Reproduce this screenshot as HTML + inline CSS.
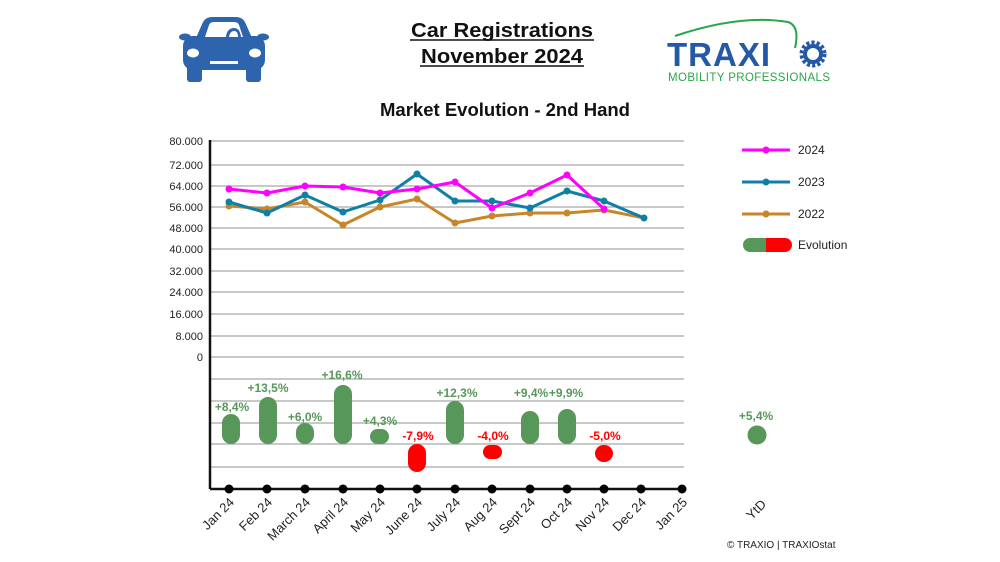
<!DOCTYPE html>
<html><head><meta charset="utf-8"><style>
html,body{margin:0;padding:0;background:#fff;}
svg{display:block;font-family:"Liberation Sans",Arial,sans-serif;}
</style></head><body>
<svg width="1000" height="562" viewBox="0 0 1000 562" xmlns="http://www.w3.org/2000/svg">
<!-- car icon -->
<g fill="#2e63ae">
  <path d="M196 38 L203 22 Q206 17 212 17 L236 17 Q242 17 245 22 L252 38 Z"/>
  <rect x="183" y="36" width="82" height="34" rx="10"/>
  <rect x="187" y="62" width="15" height="20" rx="3"/>
  <rect x="246" y="62" width="15" height="20" rx="3"/>
  <ellipse cx="185" cy="37" rx="6" ry="3.5"/>
  <ellipse cx="263" cy="37" rx="6" ry="3.5"/>
</g>
<path d="M205 37 L209 25 Q210 22 214 22 L234 22 Q238 22 239 25 L243 37 Z" fill="#fff"/>
<path d="M226 37 Q227 28 234 28 Q240 28 241 37 Z" fill="#2e63ae"/>
<path d="M229 37 Q230 31 234 31 Q238 31 238 37 Z" fill="#fff"/>
<ellipse cx="193" cy="53" rx="6" ry="4.5" fill="#fff"/>
<ellipse cx="255" cy="53" rx="6" ry="4.5" fill="#fff"/>
<rect x="210" y="61" width="28" height="3" fill="#fff"/>

<!-- titles -->
<g font-weight="bold" fill="#111" text-anchor="middle">
<text x="502" y="37" font-size="20" textLength="182" lengthAdjust="spacingAndGlyphs">Car Registrations</text>
<line x1="410" y1="40" x2="594" y2="40" stroke="#111" stroke-width="1.5"/>
<text x="502" y="63" font-size="20" textLength="162" lengthAdjust="spacingAndGlyphs">November 2024</text>
<line x1="420" y1="66" x2="584" y2="66" stroke="#111" stroke-width="1.5"/>
<text x="505" y="116" font-size="18" textLength="250" lengthAdjust="spacingAndGlyphs">Market Evolution - 2nd Hand</text>
</g>

<!-- logo -->
<path d="M675 36 Q740 14 788 22 Q800 26 795 48" fill="none" stroke="#2aa54a" stroke-width="2"/>
<text x="667" y="66" font-size="33" font-weight="bold" fill="#2459a8" letter-spacing="1">TRAXI</text>
<circle cx="813" cy="54" r="11" fill="none" stroke="#2459a8" stroke-width="5" stroke-dasharray="3 2"/>
<circle cx="813" cy="54" r="8" fill="none" stroke="#2459a8" stroke-width="4"/>
<text x="668" y="81" font-size="11.5" fill="#2aa54a" textLength="162">MOBILITY PROFESSIONALS</text>

<!-- grid -->
<g stroke="#a6a6a6" stroke-width="1.3">
<line x1="210" y1="141" x2="684" y2="141"/><line x1="210" y1="165" x2="684" y2="165"/>
<line x1="210" y1="186" x2="684" y2="186"/><line x1="210" y1="207" x2="684" y2="207"/>
<line x1="210" y1="228" x2="684" y2="228"/><line x1="210" y1="249" x2="684" y2="249"/>
<line x1="210" y1="271" x2="684" y2="271"/><line x1="210" y1="292" x2="684" y2="292"/>
<line x1="210" y1="314" x2="684" y2="314"/><line x1="210" y1="336" x2="684" y2="336"/>
<line x1="210" y1="357" x2="684" y2="357"/><line x1="210" y1="379" x2="684" y2="379"/>
<line x1="210" y1="401" x2="684" y2="401"/><line x1="210" y1="423" x2="684" y2="423"/>
<line x1="210" y1="444" x2="684" y2="444"/><line x1="210" y1="467" x2="684" y2="467"/>
</g>
<line x1="210" y1="140" x2="210" y2="489" stroke="#111" stroke-width="2.5"/>
<line x1="210" y1="489" x2="684" y2="489" stroke="#111" stroke-width="2.5"/>

<g font-size="11" fill="#222" text-anchor="end">
<text x="203" y="145">80.000</text><text x="203" y="169">72.000</text>
<text x="203" y="190">64.000</text><text x="203" y="211">56.000</text>
<text x="203" y="232">48.000</text><text x="203" y="253">40.000</text>
<text x="203" y="275">32.000</text><text x="203" y="296">24.000</text>
<text x="203" y="318">16.000</text><text x="203" y="340">8.000</text>
<text x="203" y="361">0</text>
</g>

<!-- bottom axis dots -->
<g fill="#000">
<circle cx="229" cy="489" r="4.5"/><circle cx="267" cy="489" r="4.5"/><circle cx="305" cy="489" r="4.5"/>
<circle cx="343" cy="489" r="4.5"/><circle cx="380" cy="489" r="4.5"/><circle cx="417" cy="489" r="4.5"/>
<circle cx="455" cy="489" r="4.5"/><circle cx="492" cy="489" r="4.5"/><circle cx="530" cy="489" r="4.5"/>
<circle cx="567" cy="489" r="4.5"/><circle cx="604" cy="489" r="4.5"/><circle cx="641" cy="489" r="4.5"/>
<circle cx="682" cy="489" r="4.5"/>
</g>
<g font-size="13" fill="#222" text-anchor="end">
<text transform="translate(235,503) rotate(-45)">Jan 24</text>
<text transform="translate(273,503) rotate(-45)">Feb 24</text>
<text transform="translate(311,503) rotate(-45)">March 24</text>
<text transform="translate(349,503) rotate(-45)">April 24</text>
<text transform="translate(386,503) rotate(-45)">May 24</text>
<text transform="translate(423,503) rotate(-45)">June 24</text>
<text transform="translate(461,503) rotate(-45)">July 24</text>
<text transform="translate(498,503) rotate(-45)">Aug 24</text>
<text transform="translate(536,503) rotate(-45)">Sept 24</text>
<text transform="translate(573,503) rotate(-45)">Oct 24</text>
<text transform="translate(610,503) rotate(-45)">Nov 24</text>
<text transform="translate(647,503) rotate(-45)">Dec 24</text>
<text transform="translate(688,503) rotate(-45)">Jan 25</text>
<text transform="translate(767,505) rotate(-45)">YtD</text>
</g>

<!-- lines -->
<g fill="none" stroke-width="3" stroke-linejoin="round">
<polyline stroke="#c8862b" points="229,206 267,209 305,202 343,225 380,207 417,199 455,223 492,216 530,213 567,213 604,210 644,218"/>
<polyline stroke="#0e80a8" points="229,202 267,213 305,195 343,212 380,200 417,174 455,201 492,201 530,208 567,191 604,201 644,218"/>
<polyline stroke="#f0f" points="229,189 267,193 305,186 343,187 380,193 417,189 455,182 492,208 530,193 567,175 604,209"/>
</g>
<g fill="#c8862b">
<circle cx="229" cy="206" r="3.5"/><circle cx="267" cy="209" r="3.5"/><circle cx="305" cy="202" r="3.5"/><circle cx="343" cy="225" r="3.5"/><circle cx="380" cy="207" r="3.5"/><circle cx="417" cy="199" r="3.5"/><circle cx="455" cy="223" r="3.5"/><circle cx="492" cy="216" r="3.5"/><circle cx="530" cy="213" r="3.5"/><circle cx="567" cy="213" r="3.5"/><circle cx="604" cy="210" r="3.5"/>
</g>
<g fill="#0e80a8">
<circle cx="229" cy="202" r="3.5"/><circle cx="267" cy="213" r="3.5"/><circle cx="305" cy="195" r="3.5"/><circle cx="343" cy="212" r="3.5"/><circle cx="380" cy="200" r="3.5"/><circle cx="417" cy="174" r="3.5"/><circle cx="455" cy="201" r="3.5"/><circle cx="492" cy="201" r="3.5"/><circle cx="530" cy="208" r="3.5"/><circle cx="567" cy="191" r="3.5"/><circle cx="604" cy="201" r="3.5"/><circle cx="644" cy="218" r="3.5"/>
</g>
<g fill="#f0f">
<circle cx="229" cy="189" r="3.5"/><circle cx="267" cy="193" r="3.5"/><circle cx="305" cy="186" r="3.5"/><circle cx="343" cy="187" r="3.5"/><circle cx="380" cy="193" r="3.5"/><circle cx="417" cy="189" r="3.5"/><circle cx="455" cy="182" r="3.5"/><circle cx="492" cy="208" r="3.5"/><circle cx="530" cy="193" r="3.5"/><circle cx="567" cy="175" r="3.5"/><circle cx="604" cy="209" r="3.5"/>
</g>

<!-- evolution bars -->
<g fill="#57985a">
<rect x="222" y="414" width="18" height="30" rx="9"/>
<rect x="259" y="397" width="18" height="47" rx="9"/>
<rect x="296" y="423" width="18" height="21" rx="9"/>
<rect x="334" y="385" width="18" height="59" rx="9"/>
<rect x="370" y="429" width="19" height="15" rx="7.5"/>
<rect x="446" y="401" width="18" height="43" rx="9"/>
<rect x="521" y="411" width="18" height="33" rx="9"/>
<rect x="558" y="409" width="18" height="35" rx="9"/>
<circle cx="757" cy="435" r="9.5"/>
</g>
<g fill="#ff0000">
<rect x="408" y="444" width="18" height="28" rx="9"/>
<rect x="483" y="445" width="19" height="14" rx="7"/>
<rect x="595" y="445" width="18" height="17" rx="8.5"/>
</g>
<g font-size="12" font-weight="bold" fill="#57985a" text-anchor="middle">
<text x="232" y="411">+8,4%</text><text x="268" y="392">+13,5%</text>
<text x="305" y="421">+6,0%</text><text x="342" y="379">+16,6%</text>
<text x="380" y="425">+4,3%</text><text x="457" y="397">+12,3%</text>
<text x="531" y="397">+9,4%</text><text x="566" y="397">+9,9%</text>
<text x="756" y="420">+5,4%</text>
</g>
<g font-size="12" font-weight="bold" fill="#ff0000" text-anchor="middle">
<text x="418" y="440">-7,9%</text><text x="493" y="440">-4,0%</text><text x="605" y="440">-5,0%</text>
</g>

<!-- legend -->
<g stroke-width="3">
<line x1="742" y1="150" x2="790" y2="150" stroke="#f0f"/>
<line x1="742" y1="182" x2="790" y2="182" stroke="#0e80a8"/>
<line x1="742" y1="214" x2="790" y2="214" stroke="#c8862b"/>
</g>
<circle cx="766" cy="150" r="3.5" fill="#f0f"/>
<circle cx="766" cy="182" r="3.5" fill="#0e80a8"/>
<circle cx="766" cy="214" r="3.5" fill="#c8862b"/>
<path d="M750 238 L766 238 L766 252 L750 252 A7 7 0 0 1 750 238 Z" fill="#57985a"/>
<path d="M766 238 L785 238 A7 7 0 0 1 785 252 L766 252 Z" fill="#ff0000"/>
<g font-size="12" fill="#222">
<text x="798" y="154">2024</text><text x="798" y="186">2023</text>
<text x="798" y="218">2022</text><text x="798" y="249">Evolution</text>
</g>
<text x="727" y="548" font-size="10" fill="#222">© TRAXIO | TRAXIOstat</text>
</svg>
</body></html>
